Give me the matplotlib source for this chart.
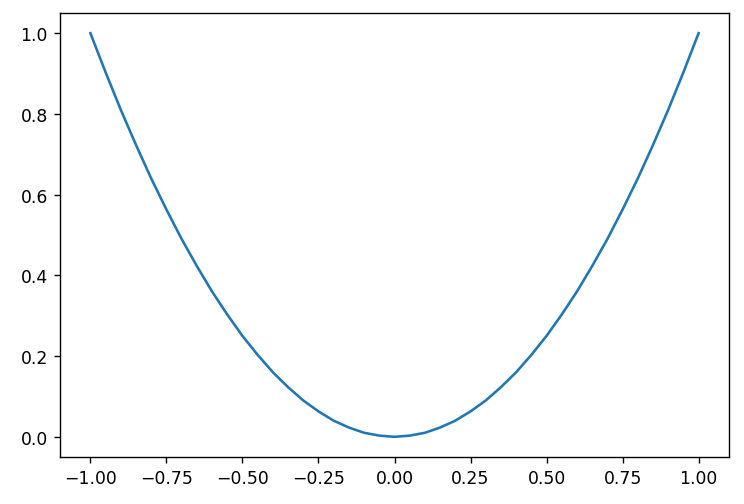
import matplotlib
matplotlib.use("Agg")
import matplotlib.pyplot as plt

# values
x_vals = [-1.0, -0.95, -0.9, -0.85, -0.8, -0.75, -0.7, -0.65, -0.6, -0.55,
          -0.5, -0.45, -0.4, -0.35, -0.3, -0.25, -0.2, -0.15, -0.1, -0.05,
          0.0, 0.05, 0.1, 0.15, 0.2, 0.25, 0.3, 0.35, 0.4, 0.45,
          0.5, 0.55, 0.6, 0.65, 0.7, 0.75, 0.8, 0.85, 0.9, 0.95, 1.0]
y_vals = [1.0, 0.903, 0.81, 0.723, 0.64, 0.563, 0.49, 0.423, 0.36, 0.303,
          0.25, 0.203, 0.16, 0.123, 0.09, 0.063, 0.04, 0.023, 0.01, 0.003,
          0.0, 0.003, 0.01, 0.023, 0.04, 0.063, 0.09, 0.123, 0.16, 0.203,
          0.25, 0.303, 0.36, 0.423, 0.49, 0.563, 0.64, 0.723, 0.81, 0.903, 1.0]

fig = plt.figure(figsize=(6.0, 505 / 124), dpi=124)
ax = fig.add_axes([60 / 744, 47 / 505, 669 / 744, 444 / 505])
ax.plot(x_vals, y_vals, color='#1f77b4', linewidth=1.5)
ax.set_xticks([-1.0, -0.75, -0.5, -0.25, 0.0, 0.25, 0.5, 0.75, 1.0])
ax.set_yticks([0.0, 0.2, 0.4, 0.6, 0.8, 1.0])

fig.savefig("out.png", dpi=124)
